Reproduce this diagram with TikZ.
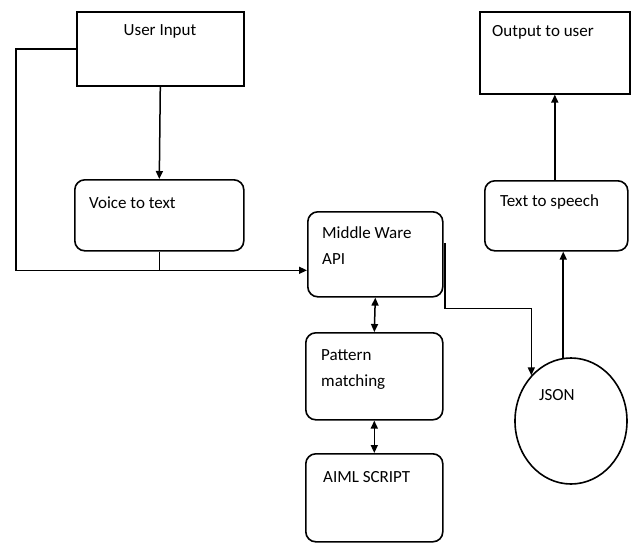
\documentclass[tikz,border=0pt]{standalone}
\usepackage{fontspec}
\setmainfont{Carlito}
\usetikzlibrary{arrows.meta,shapes.geometric}
\tikzset{
  box/.style={draw, line width=1.6pt, rectangle, anchor=north west, inner sep=0pt},
  rbox/.style={box, rounded corners=10pt},
  lbl/.style={anchor=west, inner sep=0pt, font=\fontsize{17}{26}\selectfont, align=left},
  conn/.style={line width=1.5pt},
  arr/.style={conn, -{Triangle[length=8pt,width=7pt]}},
  darr/.style={conn, {Triangle[length=8pt,width=7pt]}-{Triangle[length=8pt,width=7pt]}}
}
\begin{document}
\begin{tikzpicture}[x=1pt,y=-1pt]
\useasboundingbox (0,0) rectangle (633,542);
% boxes
\node[box, minimum width=167pt, minimum height=74pt] (ui) at (76,11) {};
\node[rbox, minimum width=169pt, minimum height=71pt] (vt) at (74,179) {};
\node[rbox, minimum width=135pt, minimum height=85pt] (mw) at (307,211) {};
\node[rbox, minimum width=137pt, minimum height=87pt] (pm) at (305,332) {};
\node[rbox, minimum width=137pt, minimum height=88pt] (ai) at (305,453) {};
\node[box, minimum width=150pt, minimum height=82pt] (out) at (479,11) {};
\node[rbox, minimum width=143pt, minimum height=70pt] (tts) at (484,180) {};
\node[draw, line width=1.6pt, ellipse, minimum width=112pt, minimum height=126pt, inner sep=0pt] (json) at (571,421) {};
% labels
\node[lbl, anchor=center] (tui) at (160,31) {User Input};
\node[lbl] (tvt) at (89,203) {Voice to text};
\node[lbl] (tmw) at (322,246) {Middle Ware\\API};
\node[lbl] (tpm) at (321,369) {Pattern\\matching};
\node[lbl] (tai) at (323,477) {AIML SCRIPT};
\node[lbl] (tout) at (492,32) {Output to user};
\node[lbl] (ttts) at (500,202) {Text to speech};
\node[lbl] (tjs) at (539,395) {JSON};
% connectors
\coordinate (mwin) at ([yshift=-16pt]mw.west);
\coordinate (mwout) at ([xshift=1.5pt,yshift=11pt]mw.east);
\draw[arr] (ui.south) -- (vt.north);
\draw[arr] (ui.west) -- ++(-60,0) |- (mwin);
\draw[conn] (vt.south) -- (vt.south |- mwin);
\draw[arr] (mwout) -- ++(0,65) -| (json.131);
\draw[arr] (json.97) -- (json.97 |- tts.south);
\draw[arr] (tts.north -| out.south) -- (out.south);
\draw[darr] (mw.south) -- (pm.north);
\draw[darr] (pm.south) -- (ai.north);
\end{tikzpicture}
\end{document}
